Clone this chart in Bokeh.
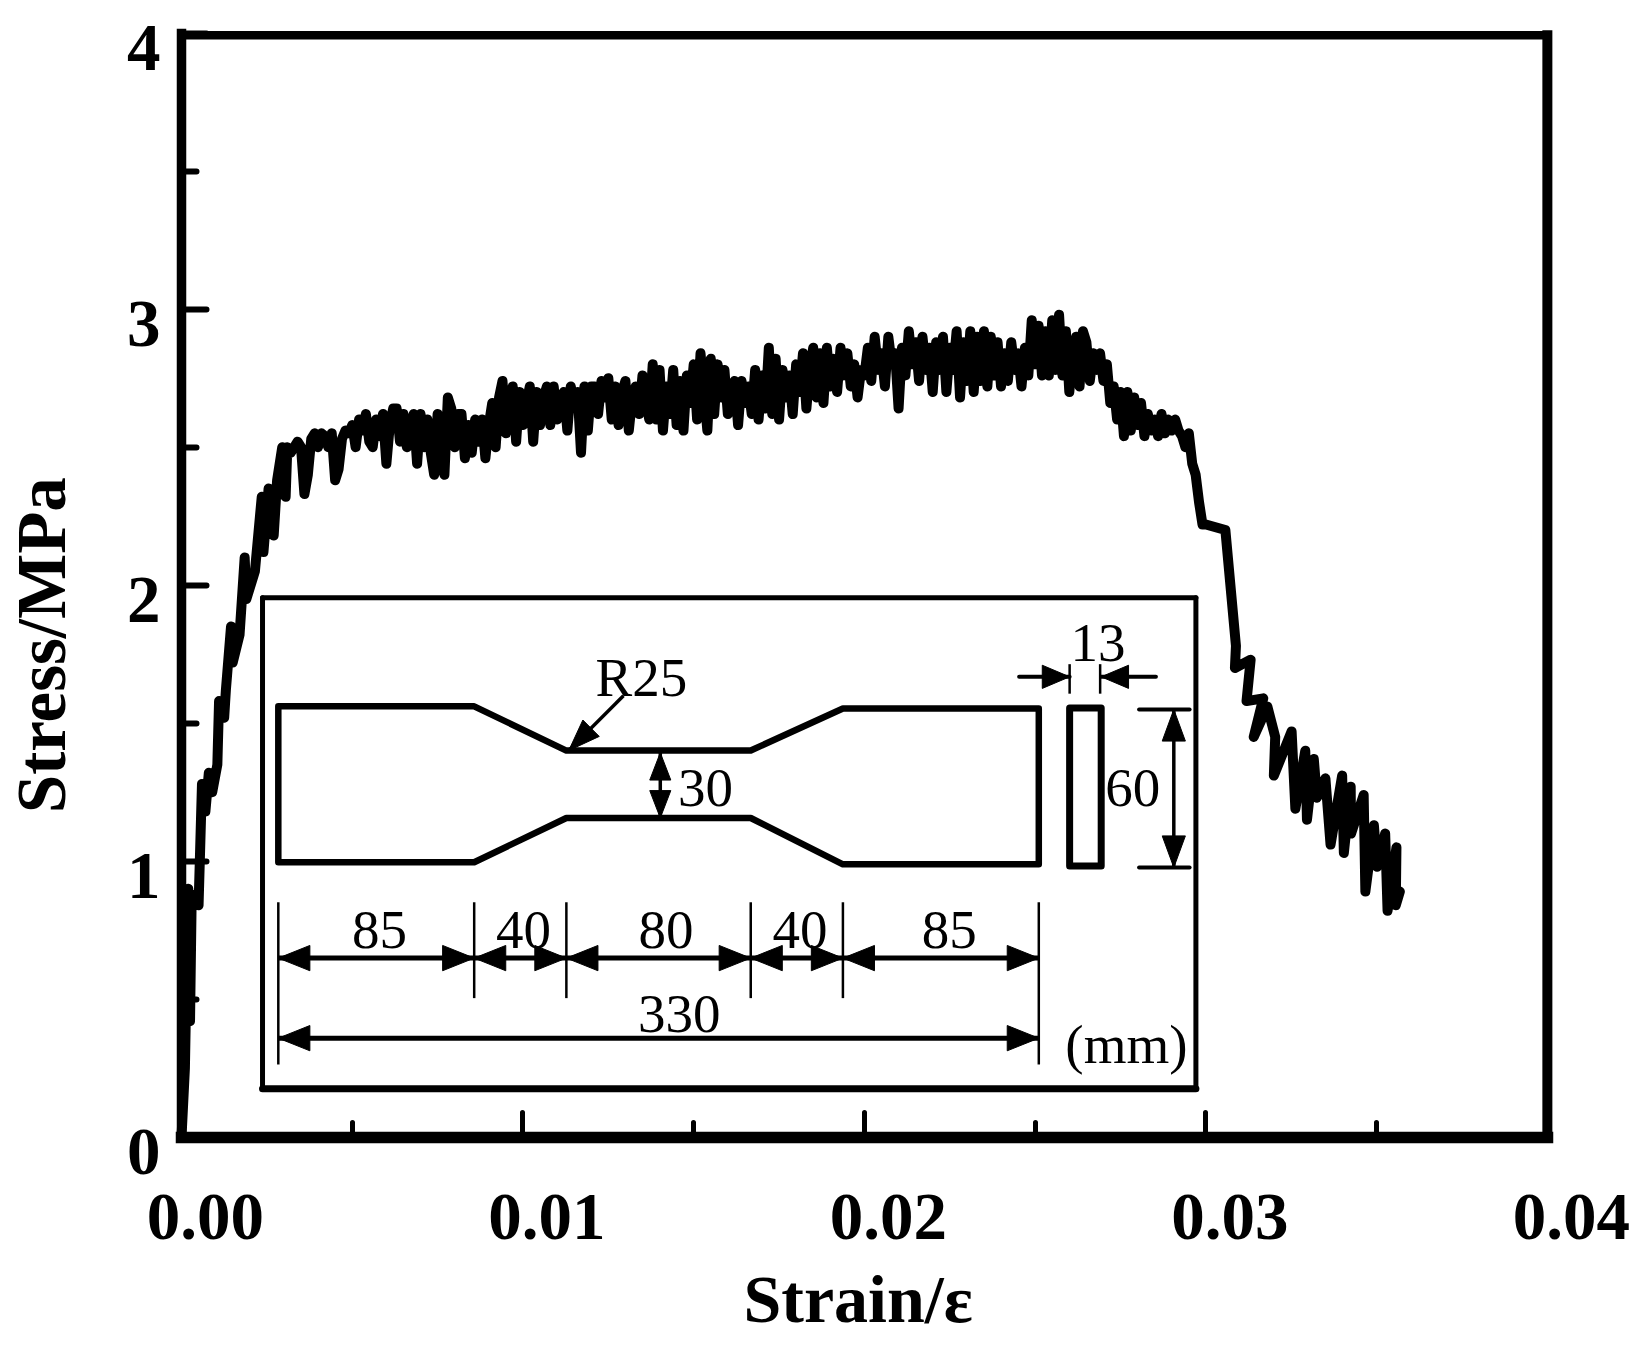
from bokeh.plotting import figure
from bokeh.models import Range1d, FixedTicker, Label
from bokeh.embed import file_html
from bokeh.resources import INLINE

# ---------- chart data ----------
rise_strain = [0.0, 0.0001, 0.00015, 0.0002, 0.00025, 0.0003, 0.0004, 0.0005, 0.0006, 0.0007,
               0.0008, 0.0009, 0.00105, 0.0011, 0.00125, 0.0013, 0.00145, 0.0015, 0.0017, 0.00185,
               0.0019, 0.00215, 0.00235, 0.0024, 0.00255, 0.0027, 0.0028, 0.00295, 0.00305]
rise_stress = [0.0, 0.25, 0.6, 0.9, 0.42, 0.88, 0.85, 0.84, 1.28, 1.18,
               1.32, 1.25, 1.35, 1.58, 1.52, 1.62, 1.85, 1.72, 1.82, 2.1,
               1.95, 2.05, 2.32, 2.12, 2.35, 2.18, 2.38, 2.5, 2.32]

plateau_start = [0.0031, 0.0041, 0.0051, 0.0061, 0.0071, 0.0081, 0.0091, 0.0101, 0.0111, 0.0121,
                 0.0131, 0.0141, 0.0151, 0.0161, 0.0171, 0.0181, 0.0191, 0.0201, 0.0211, 0.0221,
                 0.0231, 0.0241, 0.0251, 0.0261, 0.0271, 0.0281]
plateau_rows = [
    [2.50, 2.48, 2.50, 2.52, 2.50, 2.33, 2.40, 2.53, 2.55, 2.50],
    [2.55, 2.54, 2.50, 2.55, 2.38, 2.42, 2.53, 2.56, 2.55, 2.58],
    [2.50, 2.60, 2.56, 2.62, 2.52, 2.50, 2.60, 2.54, 2.62, 2.44],
    [2.58, 2.64, 2.64, 2.52, 2.62, 2.50, 2.58, 2.62, 2.44, 2.62],
    [2.50, 2.60, 2.48, 2.40, 2.62, 2.44, 2.40, 2.68, 2.64, 2.50],
    [2.62, 2.62, 2.46, 2.58, 2.48, 2.60, 2.52, 2.60, 2.46, 2.58],
    [2.66, 2.50, 2.68, 2.74, 2.55, 2.66, 2.72, 2.52, 2.70, 2.58],
    [2.66, 2.72, 2.52, 2.70, 2.58, 2.68, 2.72, 2.58, 2.72, 2.60],
    [2.68, 2.70, 2.56, 2.72, 2.66, 2.70, 2.48, 2.72, 2.56, 2.72],
    [2.72, 2.62, 2.74, 2.68, 2.75, 2.60, 2.72, 2.58, 2.70, 2.74],
    [2.56, 2.68, 2.72, 2.62, 2.76, 2.66, 2.60, 2.80, 2.60, 2.78],
    [2.56, 2.72, 2.62, 2.78, 2.58, 2.74, 2.56, 2.76, 2.66, 2.80],
    [2.60, 2.84, 2.70, 2.56, 2.82, 2.62, 2.80, 2.68, 2.78, 2.62],
    [2.72, 2.74, 2.58, 2.74, 2.66, 2.72, 2.62, 2.78, 2.60, 2.76],
    [2.64, 2.86, 2.62, 2.82, 2.60, 2.78, 2.68, 2.76, 2.62, 2.80],
    [2.70, 2.84, 2.64, 2.78, 2.86, 2.68, 2.84, 2.66, 2.86, 2.72],
    [2.82, 2.70, 2.86, 2.76, 2.84, 2.72, 2.80, 2.68, 2.78, 2.76],
    [2.86, 2.74, 2.90, 2.78, 2.84, 2.72, 2.90, 2.80, 2.84, 2.64],
    [2.86, 2.76, 2.92, 2.80, 2.88, 2.74, 2.90, 2.78, 2.86, 2.70],
    [2.88, 2.78, 2.90, 2.70, 2.86, 2.78, 2.92, 2.68, 2.88, 2.74],
    [2.92, 2.70, 2.90, 2.74, 2.92, 2.72, 2.90, 2.76, 2.88, 2.72],
    [2.84, 2.74, 2.88, 2.78, 2.84, 2.72, 2.86, 2.76, 2.96, 2.80],
    [2.94, 2.76, 2.92, 2.76, 2.96, 2.78, 2.98, 2.76, 2.92, 2.70],
    [2.84, 2.90, 2.72, 2.92, 2.88, 2.74, 2.84, 2.78, 2.84, 2.74],
    [2.80, 2.66, 2.72, 2.60, 2.70, 2.54, 2.70, 2.56, 2.68, 2.58],
    [2.66, 2.54, 2.62, 2.56, 2.60, 2.54, 2.62, 2.55, 2.60, 2.56],
]

drop_strain = [0.0291, 0.0292, 0.0293, 0.0294, 0.0295, 0.0296, 0.0297, 0.0298, 0.0299, 0.0300,
               0.03057, 0.03088, 0.03085, 0.03131, 0.03119, 0.03168, 0.03140, 0.03180, 0.03203, 0.03199,
               0.03251, 0.03262, 0.03291, 0.03296, 0.03316, 0.03325, 0.03350, 0.03365, 0.03399, 0.03404,
               0.03424, 0.03425, 0.03462, 0.03467, 0.03492, 0.03501, 0.03525, 0.03532, 0.03558, 0.03556, 0.03568]
drop_stress = [2.60, 2.56, 2.54, 2.50, 2.55, 2.44, 2.40, 2.30, 2.22, 2.22,
               2.20, 1.78, 1.70, 1.73, 1.58, 1.59, 1.45, 1.56, 1.45, 1.31,
               1.47, 1.19, 1.40, 1.15, 1.37, 1.23, 1.30, 1.06, 1.31, 1.03,
               1.27, 1.10, 1.24, 0.89, 1.13, 0.98, 1.10, 0.82, 1.05, 0.84, 0.89]

x_ticks = [0.0, 0.01, 0.02, 0.03, 0.04]
x_minor = [0.005, 0.015, 0.025, 0.035]
x_tick_labels = ["0.00", "0.01", "0.02", "0.03", "0.04"]
y_ticks = [0, 1, 2, 3, 4]
y_minor = [0.5, 1.5, 2.5, 3.5]
y_tick_labels = ["0", "1", "2", "3", "4"]
x_title = "Strain/ε"
y_title = "Stress/MPa"

# specimen drawing: dimensions as labelled (mm)
segment_lengths = [85, 40, 80, 40, 85]
segment_labels = ["85", "40", "80", "40", "85"]
segment_label_nudge = [3, 3, 7, 3, 8]
total_length = "330"
waist_label = "30"
width_label = "60"
thickness_label = "13"
radius_label = "R25"
unit_label = "(mm)"

# ---------- figure ----------
strain = list(rise_strain)
stress = list(rise_stress)
for start, row in zip(plateau_start, plateau_rows):
    for i, v in enumerate(row):
        strain.append(round(start + i * 0.0001, 5))
        stress.append(v)
strain += drop_strain
stress += drop_stress

FONT = "Liberation Serif"
W, H = 1630, 1340
VIEW_W, VIEW_H = 1549.0, 1272.0   # view of the reference that the layout was measured in


def dx(px):
    return (px - 172) / 32450.0


def dy(py):
    return (1079 - py) / 262.0


p = figure(width=W, height=H, output_backend="svg", toolbar_location=None,
           x_range=Range1d(dx(0), dx(VIEW_W)), y_range=Range1d(dy(VIEW_H), dy(0)),
           min_border=0, min_border_left=0, min_border_right=0, min_border_top=0, min_border_bottom=0,
           background_fill_color="white", border_fill_color="white")
p.grid.visible = False
p.outline_line_color = None

for ax, ticks, minor, w, tw, bnd in ((p.xaxis[0], x_ticks, x_minor, 11.5, 5, (0, 0.04)),
                                     (p.yaxis[0], y_ticks, y_minor, 9.5, 6, (0, 4))):
    ax.fixed_location = 0
    ax.bounds = bnd
    ax.ticker = FixedTicker(ticks=ticks, minor_ticks=minor)
    ax.axis_line_color = "black"
    ax.axis_line_width = w
    ax.axis_line_cap = "square"
    ax.major_tick_in = 25
    ax.major_tick_out = 0
    ax.minor_tick_in = 15
    ax.minor_tick_out = 0
    ax.major_tick_line_color = "black"
    ax.minor_tick_line_color = "black"
    ax.major_tick_line_width = tw
    ax.minor_tick_line_width = tw
    ax.major_tick_line_cap = "round"
    ax.minor_tick_line_cap = "round"
    ax.major_label_overrides = {t: "" for t in ticks}


def ix(mm):
    return 264 + mm * 2.19


def iy(mm):
    return 745 + mm * 2.5


def seg(xs, ys, w, cap="round"):
    p.line([dx(a) for a in xs], [dy(b) for b in ys], line_color="black", line_width=w,
           line_cap=cap, line_join="round")


def head(tx, ty, ux, uy, L=30, W_=12):
    """filled arrow head with its tip at tx,ty pointing along ux,uy"""
    bx, by = tx - ux * L, ty - uy * L
    xs = [tx, bx - uy * W_, bx + uy * W_]
    ys = [ty, by + ux * W_, by - ux * W_]
    p.patch([dx(a) for a in xs], [dy(b) for b in ys], fill_color="black", line_color="black", line_width=1)


def txt(px, py, s, size=55):
    p.add_layout(Label(x=dx(px), y=dy(py), text=s, text_font=FONT, text_font_size=f"{size}px",
                       text_color="black", text_align="center", text_baseline="middle"))


# top and right spines
seg([172, 1470], [33, 33], 8.5, "square")
seg([1470, 1470], [33, 1079], 10, "square")

# inset frame
seg([249, 1136], [567, 567], 5)
seg([249, 249], [567, 1033], 5)
seg([1136, 1136], [567, 1033], 5)
seg([249, 1136], [1033, 1033], 7)

# curve
p.line(strain, stress, line_color="black", line_width=10, line_join="round", line_cap="round")

# specimen outline
edges = [0]
for s in segment_lengths:
    edges.append(edges[-1] + s)
ex = [ix(e) for e in edges]
seg([ex[0], ex[1], ex[2], ex[3], ex[4], ex[5], ex[5], ex[4], ex[3], ex[2], ex[1], ex[0], ex[0]],
    [iy(-30), iy(-30), iy(-13.2), iy(-13.2), iy(-29.2), iy(-29.2), iy(30), iy(30), iy(12.4), iy(12.4), iy(29.2), iy(29.2), iy(-30)], 6.5)

# side view
seg([1016, 1046, 1046, 1016, 1016], [iy(-29.4), iy(-29.4), iy(30.6), iy(30.6), iy(-29.4)], 7)

# extension lines and dimension rows
for i, e in enumerate(ex):
    bottom = 1010 if i in (0, 5) else 947
    seg([e, e], [856, bottom], 2.5, "butt")
for a, b, lab, nudge in zip(ex[:-1], ex[1:], segment_labels, segment_label_nudge):
    seg([a, b], [909, 909], 5, "butt")
    head(a, 909, -1, 0)
    head(b, 909, 1, 0)
    txt((a + b) / 2 + nudge, 882, lab)
seg([ex[0], ex[5]], [985, 985], 5, "butt")
head(ex[0], 985, -1, 0)
head(ex[5], 985, 1, 0)
txt(645, 962, total_length)
txt(1070, 991, unit_label)

# waist
seg([627, 627], [714, 776], 3.5, "butt")
head(627, 714, 0, -1, 26, 10)
head(627, 776, 0, 1, 26, 10)
txt(670, 748, waist_label)

# radius
seg([592, 540], [660, 712], 3.5, "butt")
head(540, 712, -0.707, 0.707, 30, 11)
txt(609, 643, radius_label)

# thickness
seg([968, 1016], [642, 642], 4)
seg([1046, 1098], [642, 642], 4)
seg([1016, 1016], [630, 658], 2.5, "butt")
seg([1045, 1045], [630, 658], 2.5, "butt")
head(1016, 642, 1, 0, 26, 11)
head(1046, 642, -1, 0, 26, 11)
txt(1043, 610, thickness_label)

# width
seg([1082, 1130], [673, 673], 4)
seg([1082, 1130], [823, 823], 4)
seg([1115, 1115], [673, 823], 3.5, "butt")
head(1115, 673, 0, -1, 30, 11)
head(1115, 823, 0, 1, 30, 11)
txt(1076, 748, width_label)

# tick labels and titles
for v, s in zip(x_ticks, x_tick_labels):
    p.add_layout(Label(x=v, y=0, text=s, x_offset=24, y_offset=-80, text_font=FONT,
                       text_font_style="bold", text_font_size="67px", text_align="center",
                       text_baseline="middle", text_color="black"))
for v, s in zip(y_ticks, y_tick_labels):
    p.add_layout(Label(x=0, y=v, text=s, x_offset=-21, y_offset=-15, text_font=FONT,
                       text_font_style="bold", text_font_size="67px", text_align="right",
                       text_baseline="middle", text_color="black"))
p.add_layout(Label(x=dx(815), y=dy(1233), text=x_title, text_font=FONT, text_font_style="bold",
                   text_font_size="68px", text_align="center", text_baseline="middle", text_color="black"))
p.add_layout(Label(x=dx(39), y=dy(612), text=y_title, text_font=FONT, text_font_style="bold",
                   text_font_size="69px", text_align="center", text_baseline="middle", text_color="black",
                   angle=90, angle_units="deg"))

open("out.html", "w").write(file_html(p, INLINE))
